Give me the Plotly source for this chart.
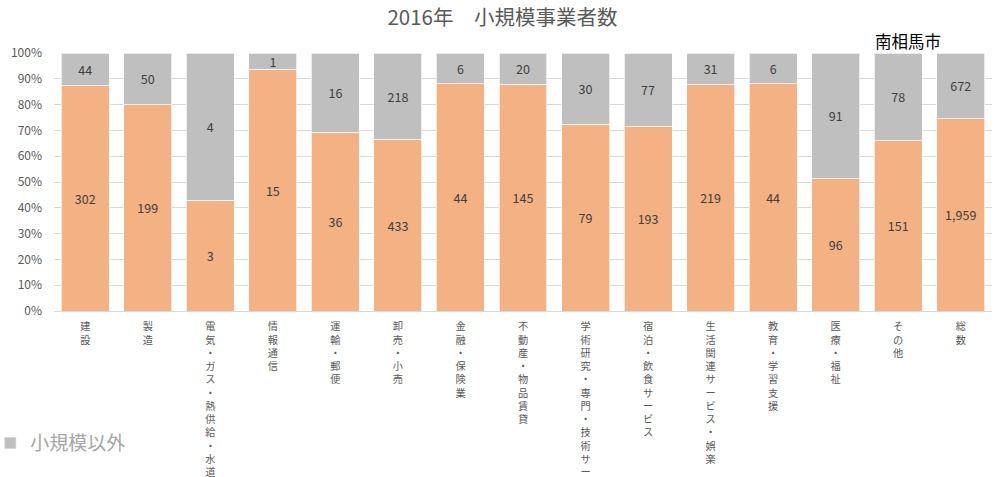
import plotly.graph_objects as go

# 産業分類（縦書きラベル）
categories = [
    "建設", "製造", "電気・ガス・熱供給・水道", "情報通信", "運輸・郵便",
    "卸売・小売", "金融・保険業", "不動産・物品賃貸", "学術研究・専門・技術サービス",
    "宿泊・飲食サービス", "生活関連サービス・娯楽", "教育・学習支援", "医療・福祉",
    "その他", "総数",
]
# 事業者数
small = [302, 199, 3, 15, 36, 433, 44, 145, 79, 193, 219, 44, 96, 151, 1959]
non_small = [44, 50, 4, 1, 16, 218, 6, 20, 30, 77, 31, 6, 91, 78, 672]
y_ticks = list(range(0, 101, 10))
y_tick_text = [f"{v}%" for v in y_ticks]

FONT = "Noto Sans CJK JP"
ORANGE = "#F4B183"
GRAY = "#BFBFBF"

label_font = dict(family=FONT, size=12.5, color="#404040")

fig = go.Figure()
fig.add_trace(go.Bar(
    x=categories, y=small, name="小規模",
    marker=dict(color=ORANGE, line=dict(color="white", width=0.7)),
    text=[f"{v:,}" for v in small], texttemplate="%{text}",
    textposition="inside", insidetextanchor="middle", textangle=0,
    textfont=label_font, showlegend=False,
))
fig.add_trace(go.Bar(
    x=categories, y=non_small, name="小規模以外",
    marker=dict(color=GRAY, line=dict(color="white", width=0.7)),
    text=[f"{v:,}" for v in non_small], texttemplate="%{text}",
    textposition="inside", insidetextanchor="middle", textangle=0,
    textfont=label_font,
))

# 縦書き：1文字ごとに改行
vertical_labels = ["<br>".join(cat) for cat in categories]

fig.update_layout(
    width=999, height=477,
    barmode="stack", barnorm="percent", bargap=0.233,
    margin=dict(l=54, r=7, t=53, b=166, autoexpand=False),
    paper_bgcolor="white", plot_bgcolor="white",
    title=dict(
        text="2016年　小規模事業者数", x=0.503, xanchor="center",
        y=0.963, yanchor="middle",
        font=dict(family=FONT, size=20.5, color="#595959"),
    ),
    legend=dict(
        x=-0.068, xanchor="left", y=-0.512, yanchor="middle",
        font=dict(family=FONT, size=19, color="#A6A6A6"),
        bgcolor="rgba(0,0,0,0)",
    ),
    uniformtext=dict(minsize=12, mode="show"),
    annotations=[dict(
        text="南相馬市", x=0.910, y=1.047, xref="paper", yref="paper",
        showarrow=False, xanchor="center", yanchor="middle",
        font=dict(family=FONT, size=16.5, color="#000000"),
    )],
    font=dict(family=FONT),
)
fig.update_xaxes(
    tickmode="array", tickvals=categories, ticktext=vertical_labels,
    tickangle=0, ticklabelstandoff=6,
    tickfont=dict(family=FONT, size=10.2, color="#595959"),
    showgrid=False, showline=True, linecolor="#D9D9D9", linewidth=1,
)
fig.update_yaxes(
    range=[0, 100], tickmode="array", tickvals=y_ticks, ticktext=y_tick_text,
    showgrid=True, gridcolor="#D9D9D9", gridwidth=1,
    zeroline=False, ticklabelstandoff=11,
    tickfont=dict(family=FONT, size=12, color="#595959"),
)

fig.write_html("out.html")
